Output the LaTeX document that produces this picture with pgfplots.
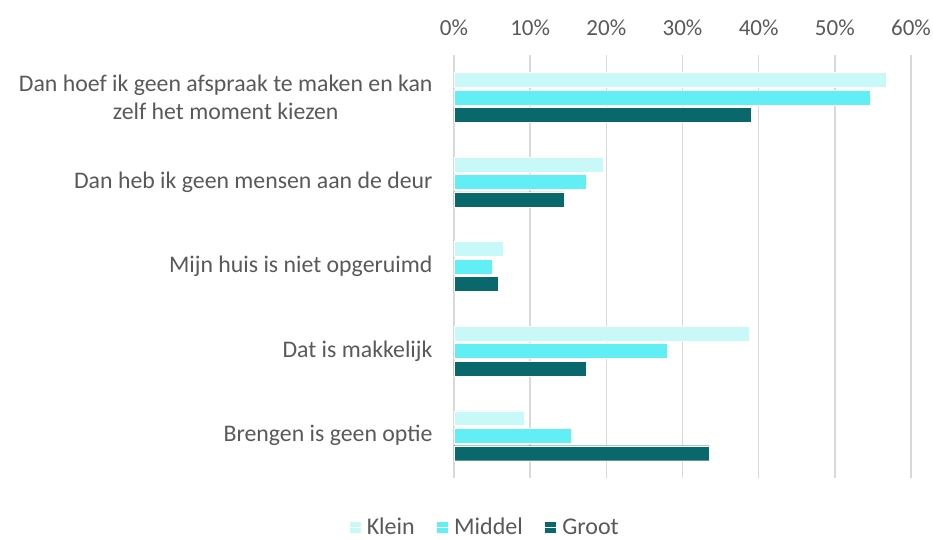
\documentclass[border=0pt]{standalone}
\usepackage{pgfplots}
\pgfplotsset{compat=1.18}
\usepackage{fontspec}
\setmainfont{Carlito}
\definecolor{klein}{HTML}{C9F8F9}
\definecolor{middel}{HTML}{61EEF5}
\definecolor{groot}{HTML}{08686B}
\definecolor{txt}{HTML}{595959}
\definecolor{grd}{HTML}{D9D9D9}
\begin{document}
\begin{tikzpicture}
\useasboundingbox (-454pt,-62pt) rectangle (479pt,478pt);
\begin{axis}[
  at={(0pt,0pt)}, anchor=south west,
  scale only axis,
  width=457pt, height=423pt,
  xbar,
  xmin=0, xmax=60,
  ymin=-0.5, ymax=4.5,
  y dir=reverse,
  bar width=0.177,
  xtick={0,10,20,30,40,50,60},
  xticklabels={0\%,10\%,20\%,30\%,40\%,50\%,60\%},
  xticklabel pos=upper,
  ytick={0,1,2,3,4},
  yticklabels={{Dan hoef ik geen afspraak te maken en kan\\zelf het moment kiezen},
    {Dan heb ik geen mensen aan de deur},
    {Mijn huis is niet opgeruimd},
    {Dat is makkelijk},
    {Brengen is geen optie}},
  yticklabel style={align=center, font=\fontsize{23.8}{28.5}\selectfont, text=txt, xshift=-18pt},
  xticklabel style={font=\fontsize{23}{27}\selectfont, text=txt, yshift=16pt},
  major tick length=0pt,
  axis line style={draw=none},
  xmajorgrids,
  grid style={grd, line width=1.5pt},
  legend style={at={(axis description cs:0.068,-0.116)}, anchor=center, draw=none,
    inner sep=1pt, fill=none,
    font=\fontsize{24}{28}\selectfont, text=txt, legend columns=3,
    /tikz/every even column/.append style={column sep=20pt}},
  legend image code/.code={\fill[#1, draw=none] (0pt,-5.5pt) rectangle (11pt,5.5pt); \path (0pt,0pt) -- (15pt,0pt);},
]
\addplot[fill=klein, draw=white, line width=0.4pt, bar shift=-0.207] coordinates {(56.8,0) (19.6,1) (6.5,2) (38.8,3) (9.2,4)};
\addplot[fill=middel, draw=white, line width=0.4pt, bar shift=0] coordinates {(54.6,0) (17.4,1) (5.0,2) (28.0,3) (15.4,4)};
\addplot[fill=groot, draw=white, line width=0.4pt, bar shift=0.207] coordinates {(39.0,0) (14.5,1) (5.8,2) (17.4,3) (33.5,4)};
\legend{Klein, Middel, Groot}
\end{axis}
\end{tikzpicture}
\end{document}
